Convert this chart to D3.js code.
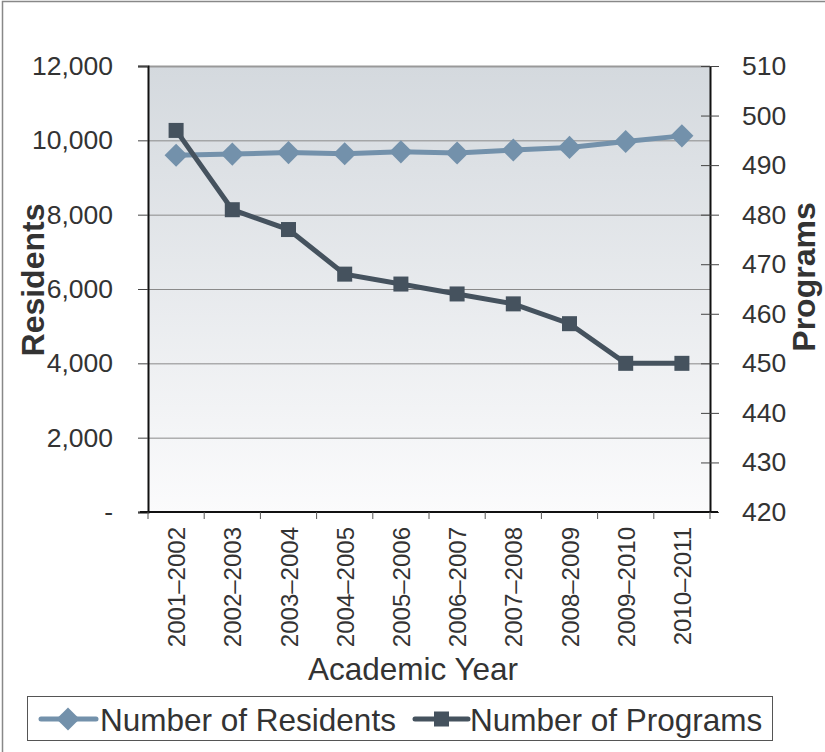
<!DOCTYPE html>
<html>
<head>
<meta charset="utf-8">
<script src="https://cdn.jsdelivr.net/npm/d3@7/dist/d3.min.js"></script>
<style>
  html, body { margin: 0; padding: 0; background: #fff; }
  svg { display: block; font-family: "Liberation Sans", Arial, sans-serif; }
</style>
</head>
<body>
<svg id="chart" width="825" height="752"></svg>
<script>
// Academic years on the x axis
const years = ["2001\u20132002", "2002\u20132003", "2003\u20132004", "2004\u20132005", "2005\u20132006",
               "2006\u20132007", "2007\u20132008", "2008\u20132009", "2009\u20132010", "2010\u20132011"];
// Number of residents (left axis)
const residents = [9600, 9630, 9670, 9640, 9690, 9660, 9740, 9810, 9970, 10120];
// Number of programs (right axis)
const programs = [497, 481, 477, 468, 466, 464, 462, 458, 450, 450];
// Axis tick values
const residentTicks = [0, 2000, 4000, 6000, 8000, 10000, 12000];
const programTicks = [420, 430, 440, 450, 460, 470, 480, 490, 500, 510];

const colResidents = "#7391ab";
const colPrograms = "#45525e";
const textCol = "#333";
const fontFam = "Liberation Sans, Arial, sans-serif";

const svg = d3.select("#chart");

// outer frame
svg.append("rect").attr("x", 2.5).attr("y", 1.5).attr("width", 830).attr("height", 760)
  .attr("fill", "none").attr("stroke", "#888").attr("stroke-width", 1.5);

const plotL = 148, plotR = 710, plotT = 66, plotB = 512;

const x = d3.scaleBand().domain(years).range([plotL, plotR]);
const yL = d3.scaleLinear().domain([0, 12000]).range([plotB, plotT]);
const yR = d3.scaleLinear().domain([420, 510]).range([plotB, plotT]);

// plot background gradient
const defs = svg.append("defs");
const grad = defs.append("linearGradient").attr("id", "bg").attr("x1", 0).attr("y1", 0).attr("x2", 0).attr("y2", 1);
grad.append("stop").attr("offset", "0%").attr("stop-color", "#d4d9de");
grad.append("stop").attr("offset", "100%").attr("stop-color", "#fbfbfc");
svg.append("rect").attr("x", plotL).attr("y", plotT).attr("width", plotR - plotL).attr("height", plotB - plotT)
  .attr("fill", "url(#bg)");

// horizontal gridlines
svg.append("g").selectAll("line").data(residentTicks.filter(d => d > 0)).join("line")
  .attr("x1", plotL).attr("x2", plotR)
  .attr("y1", d => yL(d) + 0.5).attr("y2", d => yL(d) + 0.5)
  .attr("stroke", d => d === 12000 ? "#999" : "#8a8a8a").attr("stroke-width", d => d === 12000 ? 2 : 1);

// left axis
const gL = svg.append("g").attr("transform", `translate(${plotL},0)`)
  .call(d3.axisLeft(yL).tickValues(residentTicks).tickSize(10).tickPadding(25)
    .tickFormat(d => d === 0 ? "-" : d3.format(",")(d)));
gL.select(".domain").attr("stroke", "#111").attr("stroke-width", 2);
gL.selectAll(".tick line").attr("stroke", "#444");
gL.selectAll(".tick text").attr("font-size", 26.5).attr("fill", textCol).attr("font-family", fontFam);

// right axis (ticks cross the axis line)
const gR = svg.append("g").attr("transform", `translate(${plotR},0)`)
  .call(d3.axisRight(yR).tickValues(programTicks).tickSize(9).tickPadding(23).tickSizeOuter(0));
gR.select(".domain").attr("stroke", "#111").attr("stroke-width", 2);
gR.selectAll(".tick line").attr("x1", -9).attr("stroke", "#444");
gR.selectAll(".tick text").attr("font-size", 26.5).attr("fill", textCol).attr("font-family", fontFam);

// bottom axis with ticks at category boundaries
const gB = svg.append("g").attr("transform", `translate(0,${plotB})`);
gB.append("line").attr("x1", 140).attr("x2", plotR + 8).attr("y1", 0).attr("y2", 0)
  .attr("stroke", "#111").attr("stroke-width", 2);
const bounds = years.map(d => x(d)).concat([plotR]);
gB.selectAll("line.tk").data(bounds).join("line").attr("class", "tk")
  .attr("x1", d => d).attr("x2", d => d).attr("y1", 0).attr("y2", 7)
  .attr("stroke", "#555");
gB.selectAll("text").data(years).join("text")
  .attr("transform", d => `translate(${x(d) + x.bandwidth() / 2 + 9},15) rotate(-90)`)
  .attr("text-anchor", "end")
  .attr("font-size", 24).attr("fill", textCol)
  .text(d => d);

// axis titles
svg.append("text").attr("transform", "translate(44,280) rotate(-90)")
  .attr("text-anchor", "middle").attr("font-size", 32).attr("font-weight", "bold").attr("fill", textCol)
  .text("Residents");
svg.append("text").attr("transform", "translate(815,277) rotate(-90)")
  .attr("text-anchor", "middle").attr("font-size", 32).attr("font-weight", "bold").attr("fill", textCol)
  .text("Programs");
svg.append("text").attr("x", 413).attr("y", 680)
  .attr("text-anchor", "middle").attr("font-size", 31.5).attr("fill", textCol)
  .text("Academic Year");

const cx = d => x(d) + x.bandwidth() / 2;
const diamond = d3.symbol().type(d3.symbolDiamond2).size(340);

// residents series
svg.append("path").datum(years.map((y, i) => [cx(y), yL(residents[i])]))
  .attr("d", d3.line()).attr("fill", "none").attr("stroke", colResidents).attr("stroke-width", 5);
svg.append("g").selectAll("path").data(years).join("path")
  .attr("transform", (d, i) => `translate(${cx(d)},${yL(residents[i])})`)
  .attr("d", diamond).attr("fill", colResidents);

// programs series
svg.append("path").datum(years.map((y, i) => [cx(y), yR(programs[i])]))
  .attr("d", d3.line()).attr("fill", "none").attr("stroke", colPrograms).attr("stroke-width", 5);
svg.append("g").selectAll("rect").data(years).join("rect")
  .attr("x", d => cx(d) - 7.5).attr("y", (d, i) => yR(programs[i]) - 7.5)
  .attr("width", 15).attr("height", 15).attr("fill", colPrograms);

// legend
const lg = svg.append("g");
lg.append("rect").attr("x", 27.5).attr("y", 696.5).attr("width", 745).attr("height", 44)
  .attr("fill", "#fff").attr("stroke", "#555").attr("stroke-width", 1);
lg.append("line").attr("x1", 41).attr("x2", 96).attr("y1", 719).attr("y2", 719)
  .attr("stroke", colResidents).attr("stroke-width", 5).attr("stroke-linecap", "round");
lg.append("path").attr("transform", "translate(68,719)").attr("d", diamond).attr("fill", colResidents);
lg.append("text").attr("x", 100).attr("y", 731).attr("font-size", 31.5).attr("fill", textCol)
  .text("Number of Residents");
lg.append("line").attr("x1", 415).attr("x2", 468).attr("y1", 719).attr("y2", 719)
  .attr("stroke", colPrograms).attr("stroke-width", 5).attr("stroke-linecap", "round");
lg.append("rect").attr("x", 434).attr("y", 711.5).attr("width", 15).attr("height", 15).attr("fill", colPrograms);
lg.append("text").attr("x", 470).attr("y", 731).attr("font-size", 31.5).attr("fill", textCol)
  .text("Number of Programs");
</script>
</body>
</html>
